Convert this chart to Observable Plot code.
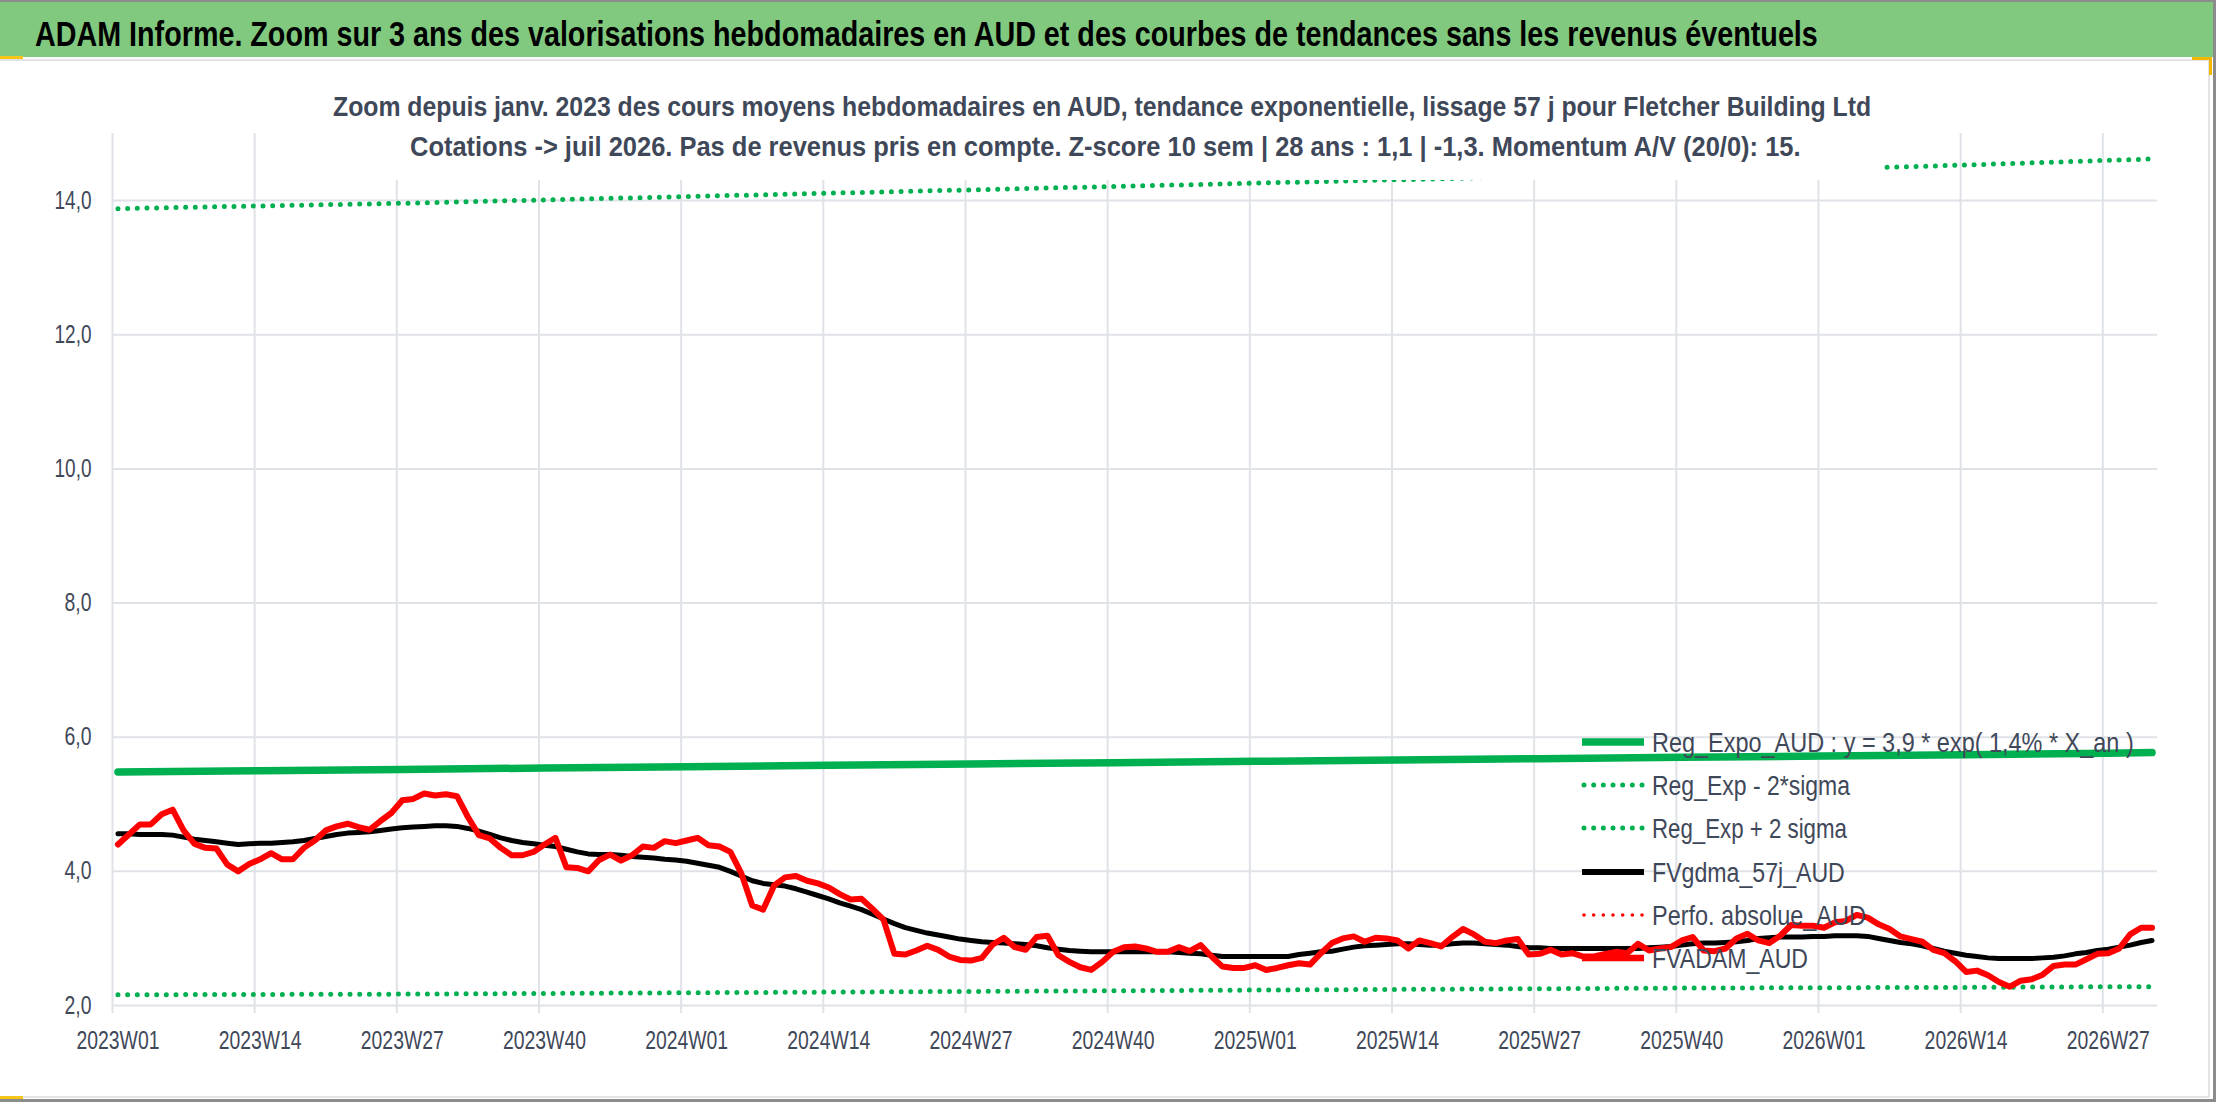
<!DOCTYPE html>
<html><head><meta charset="utf-8">
<script src="https://cdn.jsdelivr.net/npm/d3@7"></script>
<script src="https://cdn.jsdelivr.net/npm/@observablehq/plot@0.6"></script>
<style>
html,body{margin:0;padding:0;background:#fff;}
#wrap{position:relative;width:2216px;height:1102px;overflow:hidden;background:#fff;}
#plot{position:absolute;left:0;top:60px;}
#over{position:absolute;left:0;top:0;pointer-events:none;}
</style></head><body><div id="wrap"><div id="plot"></div></div>
<script>
// ---------- data ----------
const titleText = "ADAM Informe. Zoom sur 3 ans des valorisations hebdomadaires en AUD et des courbes de tendances sans les revenus éventuels";
const subtitle1 = "Zoom depuis janv. 2023 des cours moyens hebdomadaires en AUD, tendance exponentielle, lissage 57 j pour Fletcher Building Ltd";
const subtitle2 = "Cotations -> juil 2026. Pas de revenus pris en compte. Z-score 10 sem | 28 ans : 1,1 | -1,3. Momentum A/V (20/0): 15.";
const tickLabels = ["2023W01","2023W14","2023W27","2023W40","2024W01","2024W14","2024W27","2024W40","2025W01","2025W14","2025W27","2025W40","2026W01","2026W14","2026W27"];
const tickIndex = [0,13,26,39,52,65,78,91,104,117,130,143,156,169,182];
const yTicks = [2,4,6,8,10,12,14];
const nWeeks = 187; // 2023W01 .. 2026W31

const fvadam = [4.40,4.55,4.70,4.70,4.85,4.92,4.61,4.41,4.35,4.34,
 4.10,4.00,4.11,4.18,4.27,4.18,4.18,4.35,4.46,4.61,
 4.67,4.71,4.66,4.62,4.75,4.87,5.06,5.08,5.16,5.13,
 5.15,5.12,4.81,4.54,4.49,4.35,4.24,4.24,4.29,4.40,
 4.50,4.06,4.05,4.00,4.17,4.25,4.16,4.24,4.37,4.35,
 4.45,4.42,4.46,4.50,4.39,4.37,4.29,3.97,3.49,3.43,
 3.79,3.91,3.93,3.86,3.82,3.76,3.66,3.58,3.59,3.44,
 3.28,2.77,2.76,2.82,2.89,2.83,2.73,2.68,2.67,2.71,
 2.91,3.01,2.87,2.83,3.02,3.04,2.75,2.65,2.57,2.53,
 2.65,2.80,2.87,2.88,2.85,2.80,2.80,2.87,2.81,2.90,
 2.73,2.58,2.56,2.56,2.60,2.53,2.56,2.60,2.63,2.61,
 2.78,2.93,3.00,3.03,2.95,3.01,3.00,2.97,2.85,2.97,
 2.93,2.88,3.02,3.14,3.06,2.95,2.93,2.97,2.99,2.76,
 2.77,2.83,2.76,2.78,2.73,2.73,2.77,2.80,2.78,2.92,
 2.82,2.85,2.87,2.97,3.02,2.82,2.81,2.85,3.00,3.07,
 2.97,2.93,3.04,3.20,3.19,3.19,3.16,3.24,3.26,3.35,
 3.31,3.21,3.14,3.03,2.99,2.95,2.83,2.78,2.66,2.50,
 2.52,2.45,2.35,2.28,2.37,2.39,2.46,2.59,2.61,2.61,
 2.69,2.77,2.78,2.85,3.06,3.16,3.16];

const fvgdma = [4.56,4.56,4.55,4.55,4.55,4.54,4.51,4.48,4.46,4.44,
 4.42,4.40,4.41,4.42,4.42,4.43,4.44,4.46,4.49,4.52,
 4.55,4.57,4.58,4.59,4.61,4.63,4.65,4.66,4.67,4.68,
 4.68,4.67,4.64,4.60,4.55,4.50,4.46,4.43,4.41,4.39,
 4.37,4.33,4.29,4.26,4.25,4.25,4.24,4.22,4.21,4.20,
 4.18,4.17,4.15,4.12,4.09,4.06,4.00,3.93,3.86,3.82,
 3.80,3.78,3.74,3.69,3.64,3.59,3.53,3.48,3.43,3.36,
 3.29,3.22,3.16,3.12,3.08,3.05,3.02,2.99,2.97,2.95,
 2.94,2.93,2.92,2.91,2.89,2.86,2.84,2.82,2.81,2.80,
 2.80,2.80,2.80,2.80,2.80,2.80,2.80,2.79,2.78,2.77,
 2.75,2.73,2.73,2.73,2.73,2.73,2.73,2.73,2.76,2.78,
 2.80,2.81,2.84,2.87,2.89,2.90,2.91,2.92,2.92,2.91,
 2.90,2.90,2.92,2.93,2.93,2.92,2.91,2.90,2.88,2.86,
 2.86,2.85,2.85,2.85,2.85,2.85,2.85,2.85,2.85,2.85,
 2.86,2.87,2.88,2.90,2.92,2.93,2.93,2.94,2.95,2.97,
 3.00,3.01,3.02,3.02,3.02,3.03,3.03,3.04,3.04,3.04,
 3.03,3.00,2.97,2.94,2.92,2.89,2.85,2.81,2.78,2.75,
 2.73,2.71,2.70,2.70,2.70,2.70,2.71,2.72,2.74,2.77,
 2.79,2.82,2.84,2.87,2.90,2.94,2.97];

const trendWeeks = [0,13,26,39,52,65,78,91,104,117,130,143,156,169,182,186];
const regExpo    = [5.48,5.50,5.52,5.54,5.56,5.58,5.60,5.62,5.64,5.66,5.68,5.70,5.72,5.74,5.76,5.77];
const regMinus   = [2.16,2.165,2.17,2.18,2.19,2.20,2.21,2.22,2.23,2.24,2.25,2.26,2.265,2.27,2.28,2.28];
const regPlus    = [13.88,13.92,13.96,14.01,14.06,14.11,14.16,14.21,14.26,14.31,14.36,14.42,14.47,14.53,14.60,14.62];

const legendLabels = ["Reg_Expo_AUD : y = 3,9 * exp( 1,4% *  X_an )","Reg_Exp - 2*sigma","Reg_Exp + 2 sigma","FVgdma_57j_AUD","Perfo. absolue_AUD","FVADAM_AUD"];

// ---------- styles ----------
const FONT = '"Liberation Sans Narrow","Arial Narrow","Liberation Sans",sans-serif';
const TXT = "#3f4859";
const GRID = "#dfe2e7";
const GREEN = "#00b050";
const RED = "#ff0000";
const BLACK = "#000000";
const DOT = "0 9.67";

const toRows = (xs, ys) => ys.map((v, k) => ({i: xs[k], v}));
const weeks = d3.range(nWeeks);
const redRows = toRows(weeks, fvadam);
const blackRows = toRows(weeks, fvgdma);
const expoRows = toRows(trendWeeks, regExpo);
const minusRows = toRows(trendWeeks, regMinus);
const plusRows = toRows(trendWeeks, regPlus);

const chart = Plot.plot({
  width: 2216, height: 1035,
  marginLeft: 112, marginRight: 59, marginTop: 73, marginBottom: 90,
  x: {domain: [-0.5, nWeeks - 0.5]},
  y: {domain: [2, 15]},
  style: {fontFamily: FONT, background: "transparent", overflow: "visible"},
  marks: [
    Plot.ruleY(yTicks, {stroke: GRID, strokeWidth: 2}),
    Plot.ruleX(tickIndex, {x: d => d - 0.5, stroke: GRID, strokeWidth: 2, insetBottom: -8}),
    Plot.axisY(yTicks, {tickSize: 0, tickPadding: 21, label: null, fontSize: 25, color: TXT,
      tickFormat: d => d.toFixed(1).replace(".", ",")}),
    Plot.axisX(tickIndex, {tickSize: 0, tickPadding: 26, label: null, fontSize: 25, color: TXT,
      tickFormat: d => tickLabels[tickIndex.indexOf(d)]}),
    Plot.line(expoRows, {x: "i", y: "v", stroke: GREEN, strokeWidth: 7.5, strokeLinejoin: "round"}),
    Plot.line(minusRows, {x: "i", y: "v", stroke: GREEN, strokeWidth: 5, strokeDasharray: DOT, strokeLinecap: "round"}),
    Plot.line(plusRows, {x: "i", y: "v", stroke: GREEN, strokeWidth: 5, strokeDasharray: DOT, strokeLinecap: "round"}),
    Plot.line(blackRows, {x: "i", y: "v", stroke: BLACK, strokeWidth: 5, strokeLinejoin: "round", strokeLinecap: "round"}),
    Plot.line(redRows, {x: "i", y: "v", stroke: RED, strokeWidth: 6, strokeLinejoin: "round", strokeLinecap: "round"})
  ]
});
document.getElementById("plot").appendChild(chart);

// condense axis labels to the narrow widths of the original font
d3.select(chart).selectAll('g[aria-label="x-axis tick label"] text')
  .attr("textLength", 83).attr("lengthAdjust", "spacingAndGlyphs");
d3.select(chart).selectAll('g[aria-label="y-axis tick label"] text')
  .each(function() {
    const t = d3.select(this);
    t.attr("textLength", t.text().length > 3 ? 37 : 27).attr("lengthAdjust", "spacingAndGlyphs");
  });

// ---------- overlay: banner, titles, legend, frame ----------
const svg = d3.select("#wrap").append("svg").attr("id", "over").attr("width", 2216).attr("height", 1102)
  .style("font-family", FONT);

// place a text at (x, baseline y) and squeeze it horizontally to a target width
function fitText(parent, str, x, y, width, size, weight, fill) {
  const t = parent.append("text").attr("x", 0).attr("y", 0).attr("font-size", size)
    .attr("font-weight", weight).attr("fill", fill).text(str);
  const w = t.node().getComputedTextLength() || width;
  const s = Math.min(1, width / w);
  t.attr("transform", `translate(${x},${y}) scale(${s},1)`);
  return t;
}

// banner
svg.append("rect").attr("x", 0).attr("y", 0).attr("width", 2213).attr("height", 57).attr("fill", "#80c97f");
svg.append("rect").attr("x", 0).attr("y", 0).attr("width", 2216).attr("height", 2).attr("fill", "#8c8c8c");
svg.append("rect").attr("x", 2213).attr("y", 0).attr("width", 3).attr("height", 1102).attr("fill", "#8c8c8c");
svg.append("rect").attr("x", 0).attr("y", 1099).attr("width", 2216).attr("height", 3).attr("fill", "#8c8c8c");
// chart area frame
svg.append("rect").attr("x", 0).attr("y", 59).attr("width", 2209).attr("height", 2).attr("fill", "#e3e3e3");
svg.append("rect").attr("x", 2208).attr("y", 59).attr("width", 2).attr("height", 1038).attr("fill", "#e3e3e3");
svg.append("rect").attr("x", 0).attr("y", 1096).attr("width", 2209).attr("height", 2).attr("fill", "#e3e3e3");
// selection handles
svg.append("rect").attr("x", 0).attr("y", 56).attr("width", 23).attr("height", 3).attr("fill", "#f5c518");
svg.append("rect").attr("x", 0).attr("y", 1096).attr("width", 23).attr("height", 3).attr("fill", "#f5c518");
svg.append("path").attr("d", "M2192,58.5 H2210.5 V75").attr("fill", "none").attr("stroke", "#f5b800").attr("stroke-width", 3);

fitText(svg, titleText, 35, 46, 1784, 36, "bold", "#000");

// subtitle box (opaque, as in the original)
svg.append("rect").attr("x", 333).attr("y", 82).attr("width", 1550).attr("height", 98).attr("fill", "#fff");
fitText(svg, subtitle1, 333, 116, 1539, 27, "bold", TXT);
fitText(svg, subtitle2, 410, 156, 1391, 27, "bold", TXT);

// legend
const legRowY = [742, 785, 828, 872, 915, 958];
const legWidths = [482, 198, 195, 193, 214, 156];
const legStyles = [
  {stroke: GREEN, w: 7.5, dash: null},
  {stroke: GREEN, w: 5, dash: DOT},
  {stroke: GREEN, w: 5, dash: DOT},
  {stroke: BLACK, w: 6, dash: null},
  {stroke: RED, w: 3.6, dash: "0 9.67"},
  {stroke: RED, w: 6.5, dash: null}
];
const lg = svg.append("g");
legendLabels.forEach((lab, k) => {
  const s = legStyles[k], y = legRowY[k];
  const ln = lg.append("line").attr("x1", s.dash ? 1584 : 1582).attr("x2", 1644).attr("y1", y).attr("y2", y)
    .attr("stroke", s.stroke).attr("stroke-width", s.w).attr("stroke-linecap", s.dash ? "round" : "butt");
  if (s.dash) ln.attr("stroke-dasharray", s.dash);
  fitText(lg, lab, 1652, y + 10, legWidths[k], 27, "normal", TXT);
});
</script></body></html>
